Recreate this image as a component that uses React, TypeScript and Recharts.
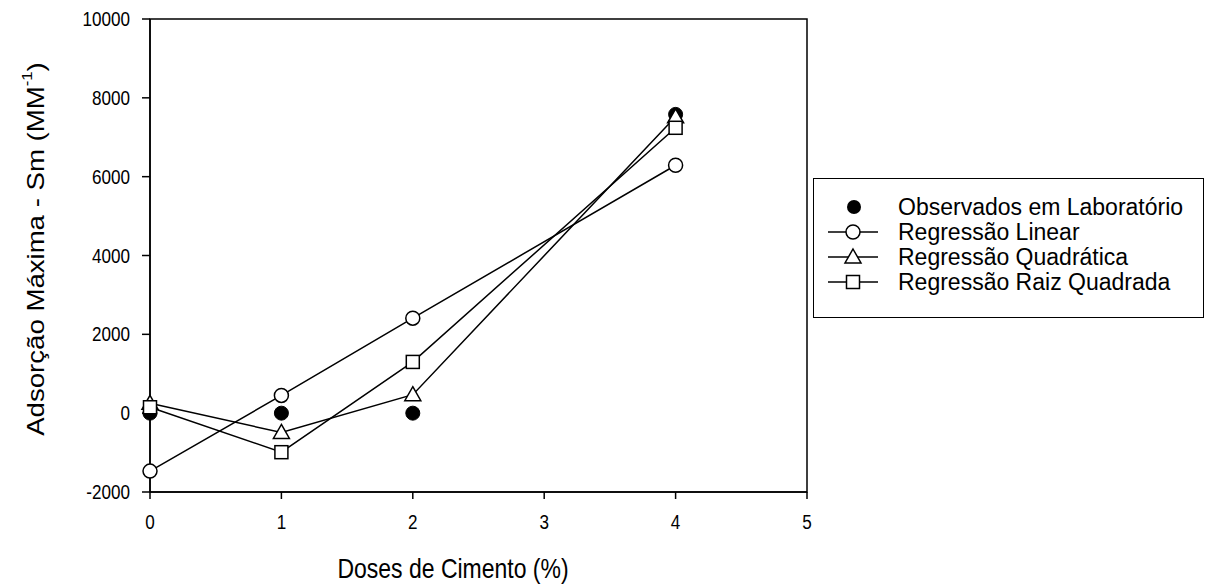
import React from 'react';
import { ComposedChart, Line, XAxis, YAxis, Label, ReferenceArea } from 'recharts';

const doses = [0, 1, 2, 4];
const observados = [0, 0, 0, 7580];
const linear = [-1470, 450, 2410, 6290];
const quadratica = [250, -490, 470, 7520];
const raizQuadrada = [150, -990, 1300, 7240];
const xTicks = [0, 1, 2, 3, 4, 5];
const yTicks = [-2000, 0, 2000, 4000, 6000, 8000, 10000];

const seriesNames = [
  'Observados em Laboratório',
  'Regressão Linear',
  'Regressão Quadrática',
  'Regressão Raiz Quadrada',
];

const data = doses.map((x, i) => ({
  x,
  obs: observados[i],
  lin: linear[i],
  quad: quadratica[i],
  raiz: raizQuadrada[i],
}));

const FONT = '"Liberation Sans", Arial, sans-serif';

const FilledDot = (p: any) => (
  <circle key={p.key ?? `f${p.index}`} cx={p.cx} cy={p.cy} r={7} fill="#000" stroke="#000" strokeWidth={1} />
);
const OpenDot = (p: any) => (
  <circle key={p.key ?? `o${p.index}`} cx={p.cx} cy={p.cy} r={7} fill="#fff" stroke="#000" strokeWidth={1.5} />
);
const TriDot = (p: any) => {
  const s = 8;
  const pts = `${p.cx},${p.cy - s} ${p.cx + s},${p.cy + s * 0.75} ${p.cx - s},${p.cy + s * 0.75}`;
  return <polygon key={p.key ?? `t${p.index}`} points={pts} fill="#fff" stroke="#000" strokeWidth={1.5} />;
};
const SqDot = (p: any) => (
  <rect key={p.key ?? `s${p.index}`} x={p.cx - 6.5} y={p.cy - 6.5} width={13} height={13} fill="#fff" stroke="#000" strokeWidth={1.5} />
);

const XTick = (p: any) => (
  <g transform={`translate(${p.x},${p.y + 23}) scale(0.95,1.12)`}>
    <text x={0} y={0} textAnchor="middle" dominantBaseline="central" fontSize={18} fontFamily={FONT} fill="#000">
      {p.payload.value}
    </text>
  </g>
);

const YTick = (p: any) => (
  <g transform={`translate(${p.x},${p.y}) scale(0.95,1.12)`}>
    <text x={0} y={0} textAnchor="end" dominantBaseline="central" fontSize={18} fontFamily={FONT} fill="#000">
      {p.payload.value}
    </text>
  </g>
);

const LegendBox = () => {
  const rows = [0, 1, 2, 3];
  return (
    <div
      style={{
        position: 'absolute',
        left: 813,
        top: 178,
        width: 391,
        height: 140,
        border: '1.5px solid #000',
        boxSizing: 'border-box',
        background: '#fff',
        fontFamily: FONT,
      }}
    >
      <svg width={388} height={137} style={{ position: 'absolute', left: 0, top: 0 }}>
        {rows.map((i) => {
          const cy = 28 + i * 25;
          return (
            <g key={i}>
              {i > 0 && <line x1={14} x2={64} y1={cy} y2={cy} stroke="#000" strokeWidth={1.5} />}
              {i === 0 && <circle cx={40} cy={cy} r={7} fill="#000" />}
              {i === 1 && <circle cx={39} cy={cy} r={7} fill="#fff" stroke="#000" strokeWidth={1.5} />}
              {i === 2 && (
                <polygon
                  points={`${39},${cy - 8} ${47},${cy + 6} ${31},${cy + 6}`}
                  fill="#fff"
                  stroke="#000"
                  strokeWidth={1.5}
                />
              )}
              {i === 3 && <rect x={32.5} y={cy - 6.5} width={13} height={13} fill="#fff" stroke="#000" strokeWidth={1.5} />}
              <text x={84} y={cy} dominantBaseline="central" fontSize={23} fill="#000" fontFamily={FONT}>
                {seriesNames[i]}
              </text>
            </g>
          );
        })}
      </svg>
    </div>
  );
};

const YTitle = () => (
  <g transform="translate(36,249) rotate(-90) scale(1.2,1)">
    <text x={0} y={0} textAnchor="middle" dominantBaseline="central" fontSize={23} fontFamily={FONT} fill="#000">
      Adsorção Máxima - Sm (MM
      <tspan fontSize={14} dy={-9}>-1</tspan>
      <tspan dy={9}>)</tspan>
    </text>
  </g>
);

const XTitle = () => (
  <g transform="translate(453,568) scale(1,1.2)">
    <text x={0} y={0} textAnchor="middle" dominantBaseline="central" fontSize={23} fontFamily={FONT} fill="#000">
      Doses de Cimento (%)
    </text>
  </g>
);

export default function App() {
  return (
    <div style={{ position: 'absolute', left: 0, top: 0, width: 1207, height: 586, background: '#fff' }}>
      <ComposedChart
        width={1207}
        height={586}
        data={data}
        margin={{ top: 19, right: 400, bottom: 54, left: 90 }}
        style={{ fontFamily: FONT }}
      >
        <XAxis
          dataKey="x"
          type="number"
          domain={[0, 5]}
          ticks={xTicks}
          height={40}
          tickSize={7}
          tickMargin={0}
          axisLine={{ stroke: '#000', strokeWidth: 1.5 }}
          tickLine={{ stroke: '#000', strokeWidth: 1.5 }}
          tick={XTick}
        >
          <Label content={() => <XTitle />} />
        </XAxis>
        <YAxis
          type="number"
          domain={[-2000, 10000]}
          ticks={yTicks}
          width={60}
          tickSize={8}
          tickMargin={12}
          axisLine={{ stroke: '#000', strokeWidth: 1.5 }}
          tickLine={{ stroke: '#000', strokeWidth: 1.5 }}
          tick={YTick}
        >
          <Label content={() => <YTitle />} />
        </YAxis>
        <ReferenceArea x1={0} x2={5} y1={-2000} y2={10000} fill="none" stroke="#000" strokeWidth={1.5} fillOpacity={0} />
        <Line dataKey="obs" stroke="none" dot={FilledDot} isAnimationActive={false} legendType="none" />
        <Line dataKey="lin" stroke="#000" strokeWidth={1.5} dot={OpenDot} isAnimationActive={false} />
        <Line dataKey="quad" stroke="#000" strokeWidth={1.5} dot={TriDot} isAnimationActive={false} />
        <Line dataKey="raiz" stroke="#000" strokeWidth={1.5} dot={SqDot} isAnimationActive={false} />
      </ComposedChart>
      <LegendBox />
    </div>
  );
}
